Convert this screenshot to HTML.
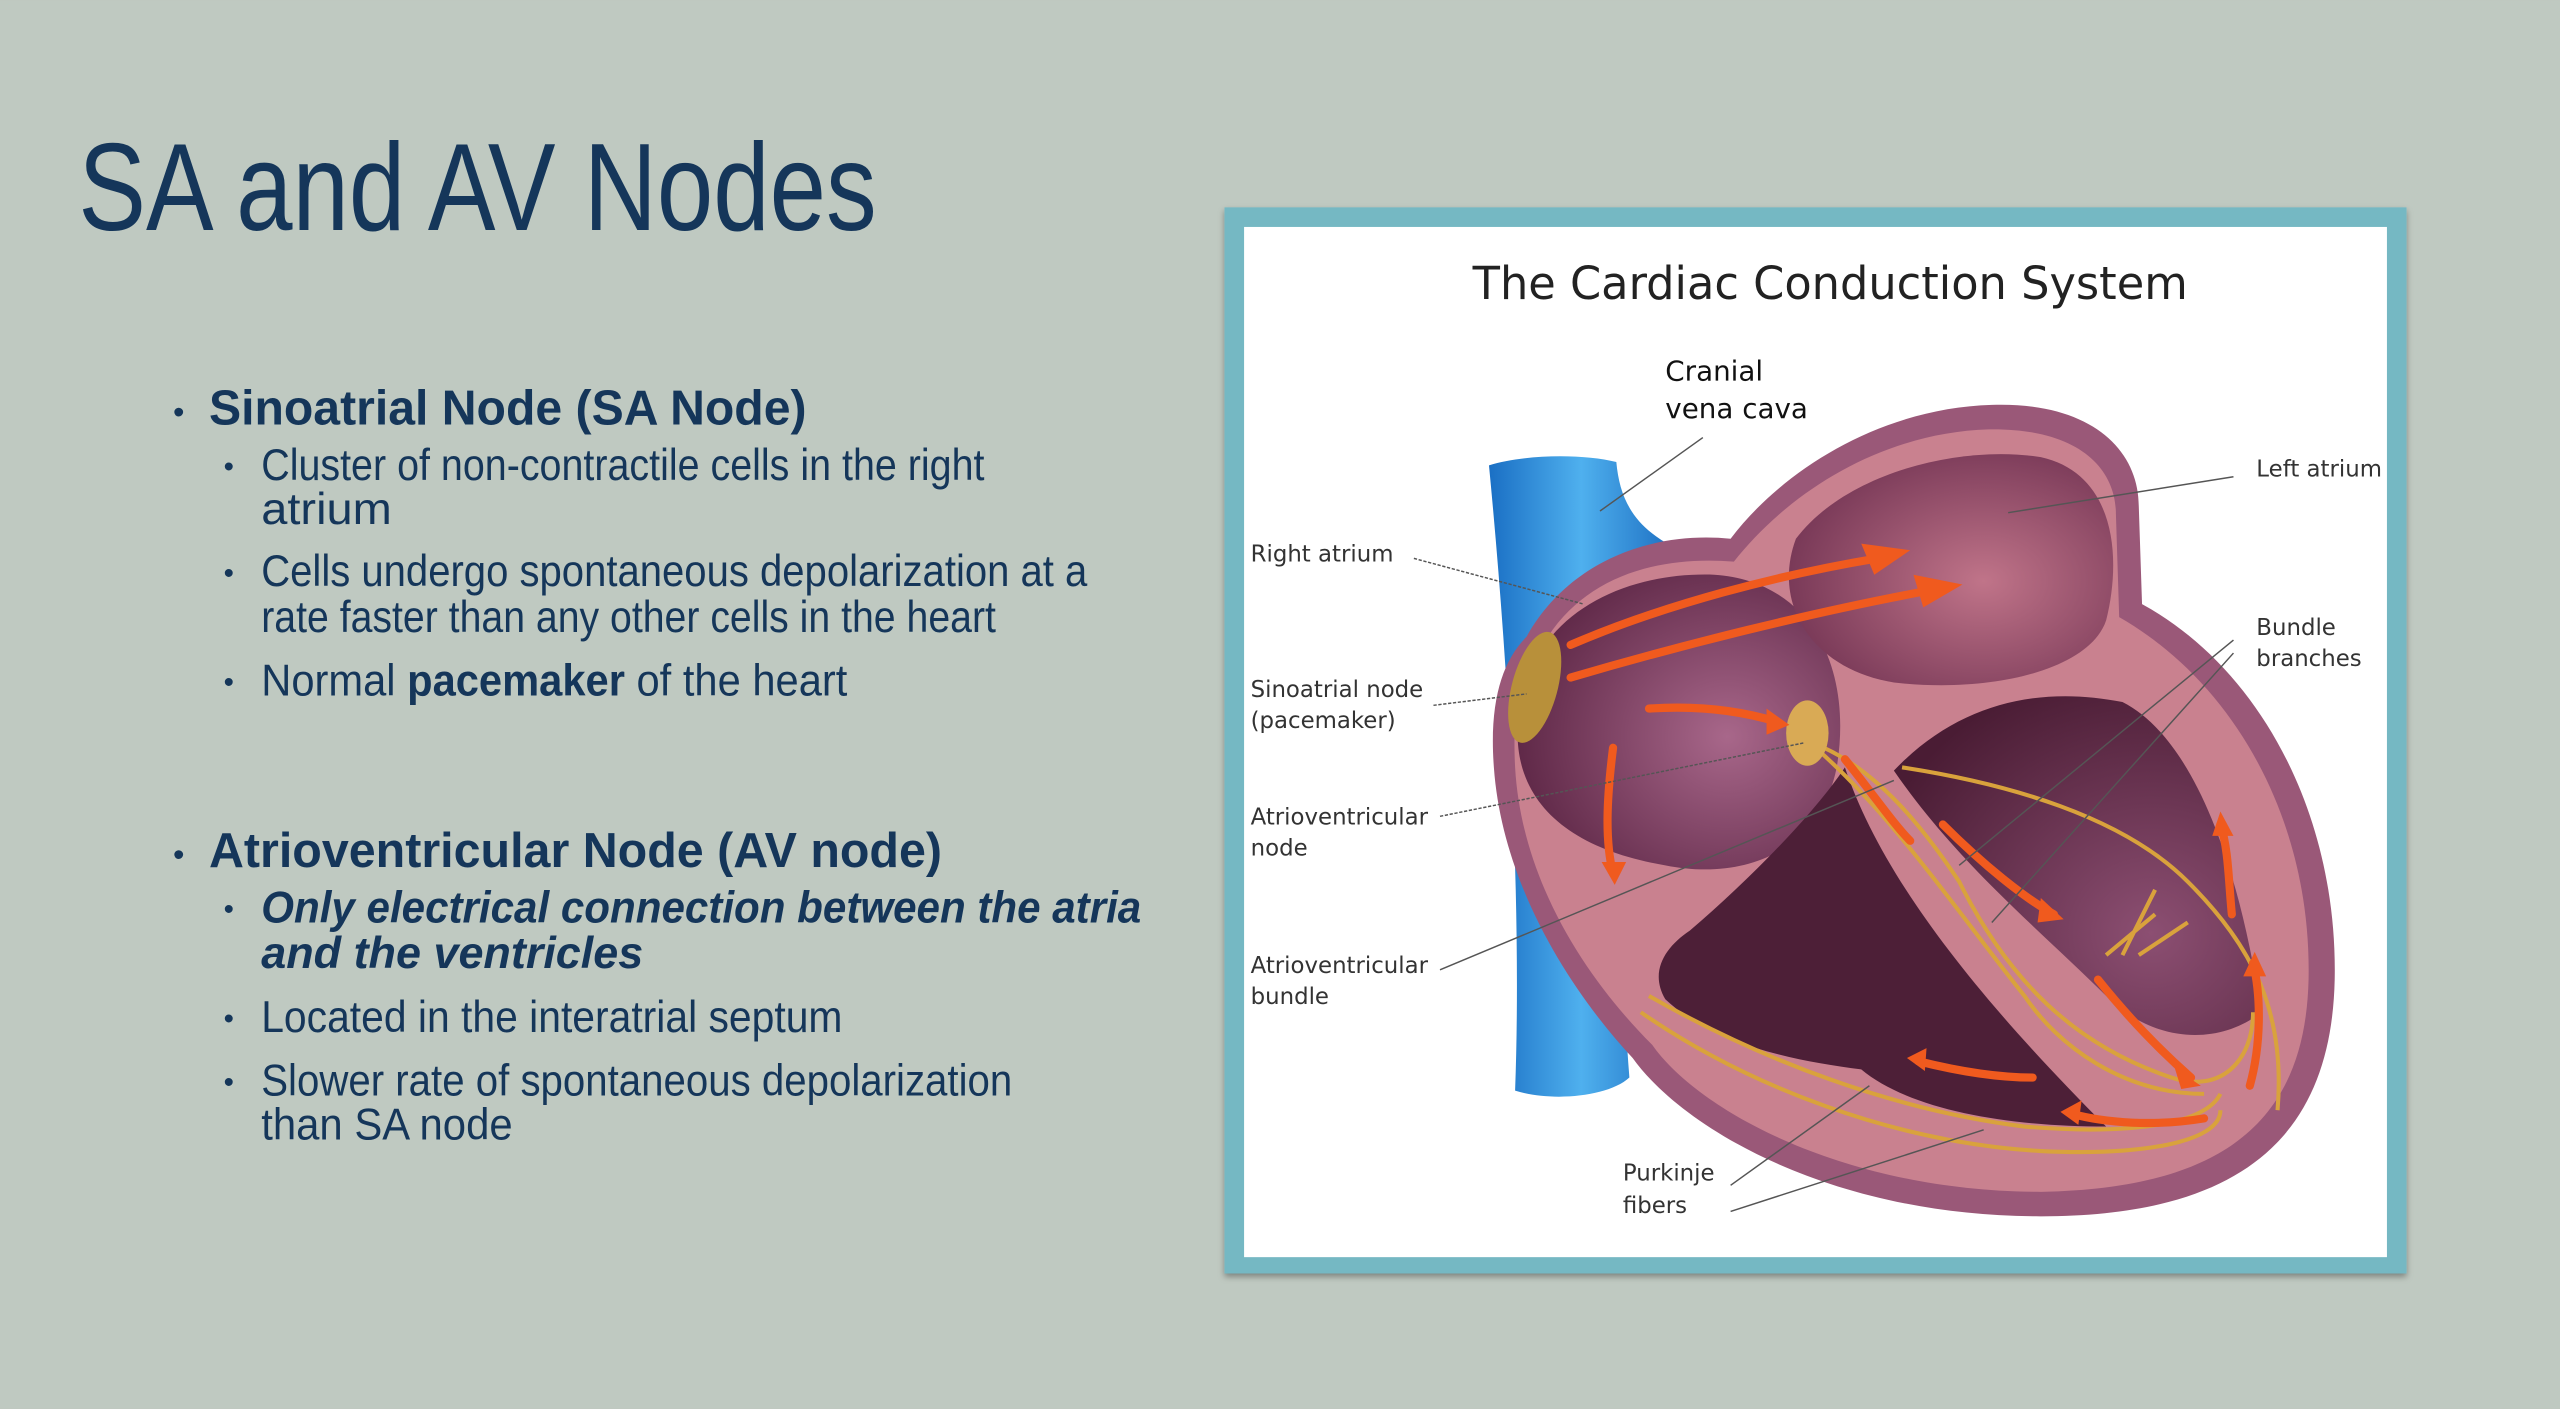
<!DOCTYPE html>
<html><head><meta charset="utf-8"><style>
html,body{margin:0;padding:0;background:#bfc9c1;}
svg{display:block}
</style></head><body>
<svg width="2560" height="1409" viewBox="0 0 1568 863" xmlns="http://www.w3.org/2000/svg">
<defs>
<radialGradient id="ra" cx="0.65" cy="0.55" r="0.7"><stop offset="0" stop-color="#a8678a"/><stop offset="1" stop-color="#5a2443"/></radialGradient>
<radialGradient id="la" cx="0.6" cy="0.55" r="0.7"><stop offset="0" stop-color="#c07489"/><stop offset="1" stop-color="#6e3050"/></radialGradient>
<radialGradient id="lv" cx="0.7" cy="0.7" r="0.8"><stop offset="0" stop-color="#8c4f72"/><stop offset="1" stop-color="#4a1c34"/></radialGradient>
<linearGradient id="vc" x1="0" x2="1"><stop offset="0" stop-color="#1a6fc4"/><stop offset="0.5" stop-color="#4fb0ee"/><stop offset="1" stop-color="#1d6fc2"/></linearGradient>
<filter id="sh" x="-5%" y="-5%" width="110%" height="110%"><feDropShadow dx="0" dy="2" stdDeviation="2" flood-color="#000" flood-opacity="0.35"/></filter>
</defs>
<rect width="1568" height="863" fill="#bfc9c1"/>
<g fill="#15365a" font-family="Liberation Sans, sans-serif">
<text x="48" y="141" font-size="76" textLength="489" lengthAdjust="spacingAndGlyphs">SA and AV Nodes</text>
<text x="106" y="259" font-size="20">•</text>
<text x="128" y="260" font-size="30" font-weight="bold" textLength="366" lengthAdjust="spacingAndGlyphs">Sinoatrial Node (SA Node)</text>
<g font-size="27">
<text x="137" y="292" font-size="18">•</text>
<text x="160" y="294" textLength="443" lengthAdjust="spacingAndGlyphs">Cluster of non-contractile cells in the right</text>
<text x="160" y="321" textLength="80" lengthAdjust="spacingAndGlyphs">atrium</text>
<text x="137" y="357" font-size="18">•</text>
<text x="160" y="359" textLength="506" lengthAdjust="spacingAndGlyphs">Cells undergo spontaneous depolarization at a</text>
<text x="160" y="387" textLength="450" lengthAdjust="spacingAndGlyphs">rate faster than any other cells in the heart</text>
<text x="137" y="424" font-size="18">•</text>
<text x="160" y="426" textLength="359" lengthAdjust="spacingAndGlyphs">Normal <tspan font-weight="bold">pacemaker</tspan> of the heart</text>
</g>
<text x="106" y="530" font-size="20">•</text>
<text x="128" y="531" font-size="30" font-weight="bold" textLength="449" lengthAdjust="spacingAndGlyphs">Atrioventricular Node (AV node)</text>
<g font-size="27">
<text x="137" y="563" font-size="18">•</text>
<text x="160" y="565" font-weight="bold" font-style="italic" textLength="539" lengthAdjust="spacingAndGlyphs">Only electrical connection between the atria</text>
<text x="160" y="593" font-weight="bold" font-style="italic" textLength="234" lengthAdjust="spacingAndGlyphs">and the ventricles</text>
<text x="137" y="630" font-size="18">•</text>
<text x="160" y="632" textLength="356" lengthAdjust="spacingAndGlyphs">Located in the interatrial septum</text>
<text x="137" y="669" font-size="18">•</text>
<text x="160" y="671" textLength="460" lengthAdjust="spacingAndGlyphs">Slower rate of spontaneous depolarization</text>
<text x="160" y="698" textLength="154" lengthAdjust="spacingAndGlyphs">than SA node</text>
</g>
</g>
<!-- frame -->
<rect x="750" y="127" width="724" height="653" fill="#74b8c3" filter="url(#sh)"/>
<rect x="762" y="139" width="700" height="631" fill="#ffffff"/>
<text x="902" y="183" font-family="DejaVu Sans, Liberation Sans, sans-serif" font-size="28" fill="#222" textLength="438" lengthAdjust="spacingAndGlyphs">The Cardiac Conduction System</text>
<text font-family="DejaVu Sans, sans-serif" font-size="17" fill="#111"><tspan x="1020" y="233">Cranial</tspan><tspan x="1020" y="256">vena cava</tspan></text>
<!-- vena cava -->
<path d="M912,285 C935,278 970,278 990,283 C992,305 1000,322 1025,335 L1000,360 C995,450 990,560 998,660 C985,672 950,675 928,668 C932,560 925,420 912,285 Z" fill="url(#vc)"/>
<!-- heart outer -->
<path d="M935,390 C960,345 1010,325 1060,330 C1090,290 1150,250 1220,248 C1280,246 1310,275 1310,310 L1312,370 C1385,410 1432,500 1430,600 C1428,690 1380,745 1250,745 C1120,745 1030,690 1000,648 C960,605 920,540 915,470 C912,430 920,405 935,390 Z" fill="#9a5878"/>
<path d="M945,395 C968,355 1012,340 1062,344 C1095,302 1152,265 1218,263 C1272,262 1296,286 1296,315 L1298,378 C1368,418 1416,502 1414,600 C1412,680 1370,728 1250,730 C1130,730 1040,680 1012,640 C972,600 932,540 928,470 C926,432 932,408 945,395 Z" fill="#c9818f"/>
<!-- chambers -->
<path d="M930,440 C935,380 990,350 1050,352 C1110,356 1135,410 1125,470 C1115,520 1070,540 1020,530 C960,520 925,490 930,440 Z" fill="url(#ra)"/>
<path d="M1100,330 C1130,290 1200,272 1250,280 C1295,290 1300,340 1290,380 C1280,410 1220,425 1160,418 C1110,410 1085,370 1100,330 Z" fill="url(#la)"/>
<path d="M1035,570 C1070,540 1110,500 1130,470 C1150,530 1200,600 1290,690 C1230,690 1170,680 1140,655 C1100,650 1050,640 1020,612 C1010,595 1020,580 1035,570 Z" fill="#4d1f37"/>
<path d="M1160,472 C1200,430 1250,420 1300,430 C1340,450 1370,520 1385,620 C1360,640 1320,640 1290,610 C1250,570 1200,530 1160,472 Z" fill="url(#lv)"/>
<!-- fibers -->
<g fill="none" stroke="#d9a23c" stroke-width="2.5">
<path d="M1110,455 C1150,470 1180,510 1200,540 C1230,600 1270,640 1330,660 C1360,670 1380,650 1380,620"/>
<path d="M1112,458 C1160,500 1200,560 1240,610 C1260,640 1300,670 1350,670"/>
<path d="M1165,470 C1230,480 1300,500 1340,540 C1380,580 1400,620 1395,680"/>
<path d="M1010,610 C1080,650 1160,680 1240,690 C1300,695 1350,690 1360,670"/>
<path d="M1005,620 C1070,665 1160,700 1250,705 C1310,708 1360,700 1360,680"/>
<path d="M1290,585 L1320,560 M1310,585 L1340,565 M1300,585 L1320,545"/>
</g>
<!-- nodes -->
<ellipse cx="940" cy="421" rx="14" ry="35" transform="rotate(15 940 421)" fill="#b8903a"/>
<ellipse cx="1107" cy="449" rx="13" ry="20" fill="#d9aa55"/>
<!-- arrows -->
<g fill="none" stroke="#f05a1e" stroke-width="5" stroke-linecap="round">
<path d="M962,395 C1020,370 1090,352 1150,342"/>
<path d="M962,415 C1030,395 1110,375 1180,362"/>
<path d="M1010,434 C1040,432 1065,435 1088,442"/>
<path d="M988,458 C984,490 983,515 988,535"/>
<path d="M1130,465 C1150,490 1160,505 1170,515"/>
<path d="M1190,505 C1215,530 1240,550 1258,560"/>
<path d="M1285,600 C1305,625 1325,645 1342,660"/>
<path d="M1360,505 C1365,520 1365,540 1367,560"/>
<path d="M1380,590 C1385,610 1385,640 1378,665"/>
<path d="M1245,660 C1220,660 1195,655 1175,650"/>
<path d="M1350,685 C1320,690 1290,688 1268,682"/>
</g>
<g fill="#f05a1e">
<polygon points="1170,337 1140,333 1148,352"/>
<polygon points="1202,358 1172,352 1178,372"/>
<polygon points="1096,444 1082,434 1082,450"/>
<polygon points="989,542 981,528 996,528"/>
<polygon points="1264,563 1250,550 1248,565"/>
<polygon points="1348,665 1332,654 1336,667"/>
<polygon points="1360,497 1355,512 1368,512"/>
<polygon points="1381,583 1374,598 1388,598"/>
<polygon points="1168,648 1180,642 1179,656"/>
<polygon points="1262,681 1275,674 1273,689"/>
</g>
<!-- leader lines -->
<g stroke="#555" stroke-width="0.9" fill="none">
<line x1="1043" y1="268" x2="980" y2="313"/>
<line x1="1368" y1="292" x2="1230" y2="314"/>
<line x1="866" y1="342" x2="970" y2="370" stroke-dasharray="2 1"/>
<line x1="878" y1="432" x2="935" y2="425" stroke-dasharray="2 1"/>
<line x1="882" y1="500" x2="1105" y2="455" stroke-dasharray="2 1"/>
<line x1="882" y1="594" x2="1160" y2="478"/>
<line x1="1368" y1="392" x2="1200" y2="530"/>
<line x1="1368" y1="400" x2="1220" y2="565"/>
<line x1="1060" y1="726" x2="1145" y2="665"/>
<line x1="1060" y1="742" x2="1215" y2="692"/>
</g>
<g font-family="DejaVu Sans, Liberation Sans, sans-serif" font-size="14" fill="#333">
<text x="766" y="344">Right atrium</text>
<text x="766" y="427">Sinoatrial node</text>
<text x="766" y="446">(pacemaker)</text>
<text x="766" y="505">Atrioventricular</text>
<text x="766" y="524">node</text>
<text x="766" y="596">Atrioventricular</text>
<text x="766" y="615">bundle</text>
<text x="1382" y="292">Left atrium</text>
<text x="1382" y="389">Bundle</text>
<text x="1382" y="408">branches</text>
<text x="994" y="723">Purkinje</text>
<text x="994" y="743">fibers</text>
</g>
</svg>
</body></html>
